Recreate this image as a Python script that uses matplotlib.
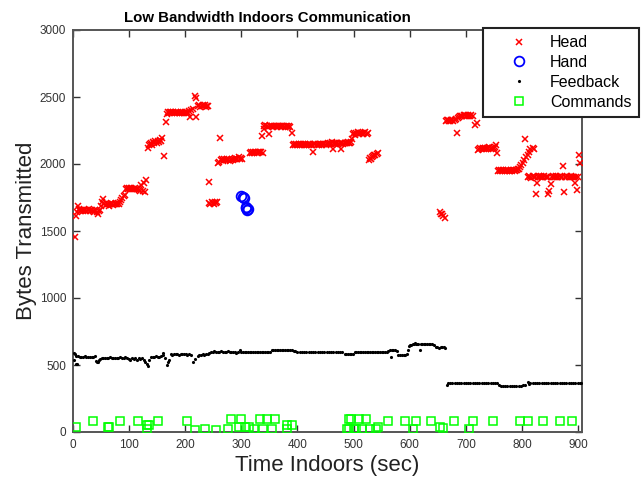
import matplotlib
matplotlib.use("Agg")
import matplotlib.pyplot as plt

# ---------------- data ----------------
head_x = [3, 6, 8, 9, 10, 12, 14, 16, 18, 20, 22, 24, 26, 28, 30, 32, 34, 36, 38, 40, 42, 44, 46, 48,
          50, 52, 54, 56, 58, 60, 62, 64, 66, 68, 70, 72, 74, 76, 78, 80, 82, 84, 86, 88, 90, 92,
          94, 96, 98, 100, 102, 104, 106, 108, 110, 112, 114, 116, 118, 120, 122, 124, 126, 128, 130,
          133, 135, 137, 139, 141, 143, 145, 147, 149, 151, 153, 155, 157, 159, 162, 165,
          167, 169, 171, 173, 175, 177, 179, 181, 183, 185, 187, 189, 191, 193, 195, 197, 199, 201, 203, 205, 207, 208, 210, 213, 217, 219, 220,
          223, 225, 227, 229, 231, 233, 235, 237, 239, 241,
          242, 243, 245, 247, 249, 251, 253, 255, 257,
          258, 260, 262, 263, 265, 267, 269, 271, 273, 275, 277, 279, 281, 283, 285, 287, 289, 291, 293, 295, 297, 299, 301,
          315, 317, 319, 321, 323, 325, 327, 329, 331, 333, 335, 336, 338, 340,
          341, 343, 345, 347, 349, 351, 353, 355, 357, 359, 361, 363, 365, 367, 369, 371, 373, 375, 377, 379, 381, 383, 385, 387, 390,
          392, 394, 396, 398, 400, 402, 404, 406, 408, 410, 412, 414, 416, 418, 420, 422, 424, 426, 428, 430, 432, 434, 436, 438, 440,
          442, 444, 446, 448, 450, 452, 454, 456, 458, 460, 462, 463, 465, 467, 469, 471, 473, 475, 477, 478, 480, 482, 484, 486, 488,
          490, 492, 494, 496, 498,
          499, 501, 503, 505, 507, 509, 511, 513, 515, 517, 519, 521, 523, 525,
          527, 529, 531, 533, 535, 537, 539, 541, 543,
          654, 656, 658, 660, 662,
          664, 666, 668, 670, 672, 674, 676, 678, 680, 682, 684, 686, 688, 690, 692, 694, 696, 698, 700, 702, 704, 706, 708, 710, 712, 717, 720, 722,
          724, 726, 728, 730, 732, 734, 736, 738, 740, 742, 744, 746, 748, 750, 752, 754, 756,
          757, 759, 761, 763, 765, 767, 769, 771, 773, 775, 777, 779, 781, 783, 785, 787, 789, 791, 793, 795,
          797, 799, 801, 803, 806, 808, 810, 812, 815, 819, 822,
          811, 813, 815, 817, 819, 821, 823, 825, 826, 828, 830, 832, 834, 836, 838, 840, 842, 844, 846, 847, 849, 851, 853, 855,
          857, 859, 861, 863, 865, 867, 869, 871, 873, 875, 877, 879, 881, 883, 885, 887, 889, 891, 893, 895, 897, 898, 900, 902, 903]
head_y = [1455, 1610, 1640, 1685, 1665, 1650, 1660, 1655, 1650, 1660, 1655, 1650, 1660, 1665, 1650, 1655, 1660, 1650, 1645, 1655, 1640, 1630, 1650, 1660,
          1690, 1720, 1740, 1700, 1695, 1705, 1700, 1690, 1700, 1710, 1700, 1695, 1705, 1700, 1700, 1710, 1705, 1720, 1730, 1745, 1760, 1770,
          1810, 1820, 1815, 1818, 1815, 1820, 1812, 1815, 1818, 1810, 1815, 1810, 1805, 1800, 1840, 1795, 1860, 1790, 1880,
          2120, 2145, 2150, 2160, 2140, 2165, 2155, 2170, 2160, 2175, 2165, 2180, 2170, 2195, 2060, 2316,
          2370, 2385, 2380, 2385, 2390, 2380, 2385, 2382, 2388, 2380, 2385, 2383, 2380, 2386, 2384, 2380, 2385, 2380, 2388, 2383, 2395, 2350, 2400, 2410, 2507, 2350, 2490,
          2430, 2440, 2425, 2435, 2440, 2430, 2438, 2428, 2435, 2432,
          1868, 1710, 1705, 1715, 1710, 1700, 1715, 1712, 1720,
          2005, 2015, 2192, 2030, 2040, 2025, 2035, 2030, 2028, 2035, 2030, 2025, 2032, 2040, 2030, 2035, 2045, 2040, 2035, 2050, 2040, 2045, 2035,
          2080, 2090, 2085, 2088, 2082, 2090, 2085, 2088, 2090, 2086, 2092, 2209, 2085, 2260,
          2280, 2290, 2285, 2275, 2224, 2285, 2280, 2282, 2278, 2285, 2280, 2276, 2282, 2280, 2284, 2278, 2280, 2282, 2278, 2283, 2280, 2276, 2282, 2279, 2229,
          2140, 2150, 2145, 2148, 2143, 2150, 2145, 2148, 2142, 2147, 2145, 2150, 2143, 2147, 2145, 2148, 2145, 2142, 2092, 2146, 2150, 2144, 2148, 2145, 2150,
          2146, 2140, 2148, 2152, 2145, 2150, 2155, 2148, 2160, 2150, 2165, 2110, 2155, 2150, 2160, 2155, 2150, 2160, 2155, 2110, 2158, 2150, 2160, 2155, 2158,
          2162, 2155, 2160, 2165, 2190,
          2225, 2235, 2220, 2230, 2238, 2225, 2232, 2228, 2235, 2222, 2230, 2238, 2225, 2230,
          2030, 2045, 2040, 2055, 2060, 2070, 2065, 2075, 2080,
          1645, 1630, 1625, 1610, 1595,
          2320, 2330, 2325, 2318, 2322, 2330, 2325, 2320, 2328, 2335, 2229, 2345, 2352, 2358, 2360, 2355, 2362, 2365, 2360, 2358, 2366, 2360, 2355, 2362, 2358, 2291, 2303, 2104,
          2110, 2120, 2115, 2118, 2112, 2120, 2115, 2118, 2120, 2125, 2115, 2118, 2112, 2120, 2130, 2142, 2080,
          1950, 1955, 1948, 1952, 1950, 1955, 1948, 1952, 1950, 1955, 1948, 1950, 1952, 1948, 1955, 1950, 1952, 1955, 1960, 1965,
          1975, 1990, 2010, 2030, 2184, 2050, 2070, 2090, 2110, 2117, 2110,
          1900, 1910, 1905, 1895, 1908, 1900, 1905, 1774, 1861, 1905, 1910, 1900, 1908, 1905, 1900, 1910, 1905, 1900, 1905, 1774, 1798, 1851, 1905, 1910,
          1900, 1905, 1908, 1900, 1905, 1910, 1900, 1905, 1988, 1789, 1905, 1900, 1908, 1905, 1900, 1910, 1905, 1900, 1905, 1856, 1900, 1806, 1905, 2067, 2010]

hand_x = [300, 303, 305, 308, 310, 312, 309]
hand_y = [1762, 1755, 1748, 1675, 1660, 1665, 1680]

feedback_x = [1, 2, 5, 7,
              3, 6, 9, 12, 15, 18, 21, 24, 27, 30, 33, 36, 39,
              41, 43, 45, 47, 49,
              51, 54, 57, 60, 63, 66, 69, 72, 75, 78, 81, 84, 87, 90, 93, 96,
              99, 102, 105, 108, 111, 114, 117, 120, 123, 126, 129, 131, 134, 136,
              139, 142, 145, 148, 151, 154, 157, 160, 161,
              164, 167, 169, 171,
              174, 177, 180, 183, 186, 189, 192, 195, 198, 201, 204, 207, 210,
              214, 218,
              222, 225, 228, 231, 234, 237, 240, 243,
              246, 249, 252, 255, 258, 261, 264, 267, 270, 273, 276, 279, 282, 285, 288, 291, 294, 297,
              300, 303, 306, 309, 312, 315, 318, 321, 324, 327, 330, 333, 336, 339, 342, 345, 348, 351,
              354, 357, 360, 363, 366, 369, 372, 375, 378, 381, 384, 387, 390, 393, 396,
              400, 404, 408, 412, 416, 420, 424, 428, 432, 436, 440, 444, 448, 452, 456, 460, 464, 468, 472, 476, 480,
              484, 487, 490, 493, 496, 499,
              502, 505, 508, 511, 514, 517, 520, 523, 526, 529, 532, 535, 538, 541, 544, 547, 550, 553, 556, 559,
              562, 564, 566, 568, 571, 574, 577,
              580, 583, 586, 589, 592, 595,
              597, 599, 601, 603, 605,
              607, 609, 611, 613, 615, 618, 620, 622, 625, 628, 631, 634, 637, 640, 643,
              646, 649, 652, 655, 658, 661, 663,
              666, 668, 672, 676, 680, 684, 688, 692, 696, 700, 704, 708, 712, 716, 720, 724, 728, 732, 736, 740, 744, 748, 752, 756,
              759, 762, 766, 770, 774, 778, 782, 786, 790, 794, 798, 802, 806,
              810, 812,
              815, 819, 823, 827, 831, 835, 839, 843, 847, 851, 855, 859, 863, 867, 871, 875, 879, 883, 887, 891, 895, 899, 903, 906]
feedback_y = [587, 537, 505, 505,
              580, 570, 565, 562, 560, 562, 565, 560, 562, 560, 558, 560, 565,
              530, 525, 525, 540, 545,
              550, 555, 555, 555, 555, 558, 555, 555, 552, 555, 555, 556, 555, 554, 556, 555,
              545, 540, 550, 545, 550, 540, 550, 545, 555, 535, 525, 510, 495, 540,
              560, 562, 560, 565, 562, 560, 565, 575, 590,
              555, 500, 520, 540,
              580, 578, 580, 582, 580, 578, 580, 580, 582, 580, 578, 580, 578,
              520, 545,
              570, 575, 575, 580, 578, 582, 585, 587,
              598, 600, 602, 600, 598, 600, 602, 600, 598, 600, 602, 600, 598, 600, 595, 587, 600, 612,
              598, 595, 595, 596, 595, 594, 595, 596, 595, 595, 594, 595, 596, 595, 594, 595, 596, 600,
              610, 612, 612, 613, 612, 611, 612, 612, 610, 612, 612, 610, 613, 608, 605,
              598, 595, 595, 596, 595, 595, 594, 595, 596, 595, 595, 594, 595, 596, 595, 595, 594, 595, 596, 595, 595,
              582, 580, 580, 579, 580, 582,
              595, 594, 595, 596, 595, 595, 594, 595, 596, 595, 594, 595, 595, 596, 595, 598, 595, 597, 600, 598,
              605, 612, 562, 610, 615, 612, 605,
              575, 574, 575, 576, 575, 580,
              615, 640, 648, 652, 655,
              660, 665, 658, 657, 655, 612, 660, 658, 657, 656, 657, 655, 657, 656, 650,
              635, 632, 630, 632, 633, 632, 630,
              351, 365, 368, 368, 367, 368, 369, 368, 368, 367, 368, 368, 369, 368, 368, 367, 368, 368, 369, 368, 368, 367, 368, 365,
              350, 346, 346, 345, 346, 346, 347, 346, 346, 345, 346, 348, 350,
              376, 360,
              368, 368, 367, 368, 368, 369, 368, 368, 367, 368, 368, 369, 368, 368, 367, 368, 368, 369, 368, 368, 367, 368, 368, 368]

commands_x = [5, 35, 62, 65, 83, 116, 131, 132, 135, 151, 204, 217, 236, 255, 276, 281, 295, 299, 307, 313,
              323, 333, 338, 345, 354, 360, 381, 382, 390, 491, 491, 489, 495, 500, 505, 510, 515, 522, 529,
              540, 544, 562, 592, 605, 611, 638, 654, 660, 679, 705, 712, 749, 797, 810, 837, 867, 890]
commands_y = [35, 85, 35, 35, 85, 85, 20, 50, 50, 85, 85, 15, 20, 15, 20, 100, 35, 100, 35, 35,
              20, 100, 20, 100, 20, 100, 20, 50, 50, 100, 20, 20, 100, 20, 20, 100, 20, 100, 20,
              20, 40, 85, 85, 20, 85, 85, 40, 30, 85, 20, 85, 85, 85, 85, 85, 85, 85]

x_ticks = [0, 100, 200, 300, 400, 500, 600, 700, 800, 900]
y_ticks = [0, 500, 1000, 1500, 2000, 2500, 3000]

# ---------------- figure ----------------
W, H = 641, 483
SANS = ['Liberation Sans', 'DejaVu Sans']
fig = plt.figure(figsize=(W / 100, H / 100), dpi=100)
ax = fig.add_axes([73 / W, 1 - 432 / H, (582 - 73) / W, (432 - 30) / H])

ax.plot(head_x, head_y, linestyle='none', marker='x', color='#ff0000',
        markersize=4.5, markeredgewidth=1.1, label='Head', zorder=3)
ax.plot(hand_x, hand_y, linestyle='none', marker='o', markerfacecolor='none',
        markeredgecolor='#0000ff', markersize=7, markeredgewidth=1.3, label='Hand', zorder=3)
ax.plot(feedback_x, feedback_y, linestyle='none', marker='.', color='black',
        markersize=2.5, label='Feedback', zorder=3)
ax.plot(commands_x, commands_y, linestyle='none', marker='s', markerfacecolor='none',
        markeredgecolor='#00ff00', markersize=5.5, markeredgewidth=1.1, label='Commands', zorder=3)

ax.set_xlim(0, 907)
ax.set_ylim(0, 3000)
ax.set_xticks(x_ticks)
ax.set_yticks(y_ticks)
ax.tick_params(direction='in', length=5, width=1, top=True, right=True,
               labelsize=8.5, labelcolor='#333333', color='#333333', pad=5)
for lab in ax.get_xticklabels() + ax.get_yticklabels():
    lab.set_family(SANS)
for s in ax.spines.values():
    s.set_color('#555555')
    s.set_linewidth(1.4)

fig.text(267 / W, 1 - 18 / H, 'Low Bandwidth Indoors Communication', fontsize=10.8,
         fontweight='bold', family=SANS, ha='center', va='center')
ax.set_xlabel('Time Indoors (sec)', fontsize=16, family=SANS, color='#222222', labelpad=3)
ax.set_ylabel('Bytes Transmitted', fontsize=16, family=SANS, color='#222222', labelpad=2)

leg = ax.legend(loc='upper left', bbox_to_anchor=(483 / W, 1 - 28 / H),
                bbox_transform=fig.transFigure, borderaxespad=0, borderpad=0.45,
                handlelength=3.6, handletextpad=0.15, labelspacing=0.3,
                prop={'family': SANS, 'size': 11.5},
                fancybox=False, framealpha=1, edgecolor='#222222')
leg.get_frame().set_linewidth(1.5)
leg.set_zorder(10)

fig.savefig('out.png', dpi=100)
